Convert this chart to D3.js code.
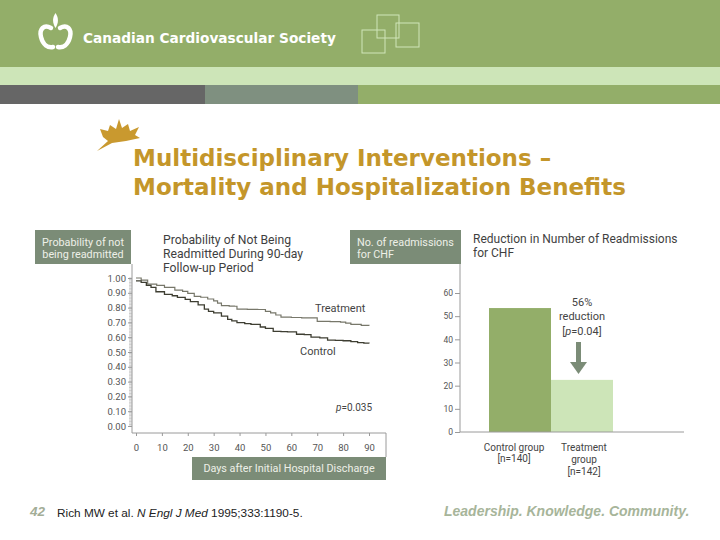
<!DOCTYPE html>
<html>
<head>
<meta charset="utf-8">
<script src="https://cdn.jsdelivr.net/npm/d3@7"></script>
<style>
  body { margin: 0; background: #fff; }
  text { font-family: Roboto, "DejaVu Sans", sans-serif; }
</style>
</head>
<body>
<svg width="720" height="540"></svg>
<script>
// Kaplan-Meier style curves (days, probability of not being readmitted)
const trtDays = [0, 2, 4.5, 8, 11, 15, 18, 20, 22.5, 25, 27.7, 30, 31.5, 33, 36, 38, 39, 43, 47, 50, 52, 54, 56, 60, 64, 67.6, 70, 75, 79, 81, 83, 87, 90];
const trtVals = [1.00, 0.985, 0.958, 0.95, 0.936, 0.918, 0.91, 0.896, 0.876, 0.87, 0.858, 0.845, 0.83, 0.813, 0.81, 0.809, 0.79, 0.788, 0.787, 0.775, 0.764, 0.75, 0.735, 0.733, 0.731, 0.73, 0.707, 0.705, 0.702, 0.695, 0.687, 0.68, 0.678];

const ctrlDays = [0, 2, 4, 5.8, 7.7, 11, 14, 16, 19, 21, 24, 26.4, 28, 30, 33, 35.4, 37, 39, 42, 44.4, 48, 50, 53, 56, 58.5, 62, 65, 67.6, 71, 74, 77, 80, 83, 85.6, 88, 90];
const ctrlVals = [0.98, 0.97, 0.95, 0.936, 0.907, 0.89, 0.88, 0.869, 0.855, 0.84, 0.818, 0.79, 0.775, 0.764, 0.742, 0.72, 0.71, 0.698, 0.692, 0.687, 0.669, 0.66, 0.64, 0.638, 0.636, 0.62, 0.618, 0.60, 0.596, 0.58, 0.578, 0.576, 0.57, 0.564, 0.56, 0.558];

const dayTicks = [0, 10, 20, 30, 40, 50, 60, 70, 80, 90];
const probTicks = [0, 0.1, 0.2, 0.3, 0.4, 0.5, 0.6, 0.7, 0.8, 0.9, 1.0];

// bar chart
const groups = ["Control group", "Treatment group"];
const groupLabels = [["Control group", "[n=140]"], ["Treatment", "group", "[n=142]"]];
const readmissions = [53.5, 22.5];
const countTicks = [0, 10, 20, 30, 40, 50, 60];

const svg = d3.select("svg");
const boxColor = "#7b8c77";
const green = "#93ae69";
const lightGreen = "#cde5b8";

// ---- header bands ----
svg.append("rect").attr("x", 0).attr("y", 0).attr("width", 720).attr("height", 67).attr("fill", green);
svg.append("rect").attr("x", 0).attr("y", 67).attr("width", 720).attr("height", 18).attr("fill", lightGreen);
svg.append("rect").attr("x", 0).attr("y", 85).attr("width", 205).attr("height", 19).attr("fill", "#666666");
svg.append("rect").attr("x", 205).attr("y", 85).attr("width", 153).attr("height", 19).attr("fill", "#7f9080");
svg.append("rect").attr("x", 358).attr("y", 85).attr("width", 362).attr("height", 19).attr("fill", green);

// logo
const logo = svg.append("g").attr("fill", "none").attr("stroke", "#fff").attr("stroke-width", 4.5).attr("stroke-linecap", "round");
logo.append("path").attr("d", "M51,28 C44,24 39,29 41,37 C43,45 48,48 53,47");
logo.append("path").attr("d", "M60,28 C67,24 72,29 70,37 C68,45 63,48 58,47");
svg.append("path").attr("d", "M55.5,13 C52,18 52.5,23 55.5,28 C58.5,23 59,18 55.5,13 Z").attr("fill", "#fff");

svg.append("text").attr("x", 83).attr("y", 43)
  .style("font-family", "'DejaVu Sans', sans-serif").style("font-weight", "bold")
  .attr("font-size", 13.7).attr("fill", "#fff").text("Canadian Cardiovascular Society");

const sq = svg.append("g").attr("fill", "none").attr("stroke", "#dcefc8").attr("stroke-width", 1).attr("opacity", 0.85);
sq.append("rect").attr("x", 377).attr("y", 15).attr("width", 22).attr("height", 23);
sq.append("rect").attr("x", 362).attr("y", 30).attr("width", 23).attr("height", 23);
sq.append("rect").attr("x", 396).attr("y", 23).attr("width", 23).attr("height", 24);

// ---- title ----
svg.append("path")
  .attr("d", "M97,151 L108,141 L103,137 L100,129 L108,131 L110,125 L116,129 L119,119 L122,128 L128,124 L130,131 L139,127 L135,135 L140,138 L126,141 L112,143 Z")
  .attr("fill", "#c9992f");
const title = svg.append("text").attr("fill", "#c4962a")
  .style("font-family", "'DejaVu Sans', sans-serif").style("font-weight", "bold").attr("font-size", 23);
title.append("tspan").attr("x", 133).attr("y", 166).text("Multidisciplinary Interventions –");
title.append("tspan").attr("x", 133).attr("y", 195).text("Mortality and Hospitalization Benefits");

// ---- left chart: probability curves ----
const x = d3.scaleLinear().domain([0, 90]).range([136, 369]);
const y = d3.scaleLinear().domain([0, 1]).range([426, 278]);
const axisColor = "#9a9a9a";
const tickText = "#555";

svg.append("rect").attr("x", 35).attr("y", 230).attr("width", 96).attr("height", 34).attr("fill", boxColor);
const lb = svg.append("text").attr("fill", "#eef0e8").attr("font-size", 10.8).attr("text-anchor", "middle");
lb.append("tspan").attr("x", 83).attr("y", 246).text("Probability of not");
lb.append("tspan").attr("x", 83).attr("y", 258).text("being readmitted");

const lt = svg.append("text").attr("fill", "#3f3f3f").attr("font-size", 12.2);
lt.append("tspan").attr("x", 163).attr("y", 244).text("Probability of Not Being");
lt.append("tspan").attr("x", 163).attr("y", 258).text("Readmitted During 90-day");
lt.append("tspan").attr("x", 163).attr("y", 272).text("Follow-up Period");

// frame lines
svg.append("path").attr("d", "M132,264 L132,433 L386,433 L386,457")
  .attr("fill", "none").attr("stroke", axisColor).attr("stroke-width", 1);

// minor ticks
svg.append("g").selectAll("line").data(d3.range(0, 101).map(d => d / 100)).join("line")
  .attr("x1", 129).attr("x2", 132)
  .attr("y1", d => y(d)).attr("y2", d => y(d))
  .attr("stroke", "#aaa").attr("stroke-width", 0.6);

const yAxisL = d3.axisLeft(y).tickValues(probTicks).tickFormat(d3.format(".2f")).tickSize(4).tickPadding(2);
const gyl = svg.append("g").attr("transform", "translate(132,0)").call(yAxisL);
gyl.select(".domain").remove();
gyl.selectAll("line").attr("stroke", "#999");
gyl.selectAll("text").attr("fill", tickText).attr("font-size", 9.5).style("font-family", "Roboto, sans-serif");

const xAxisL = d3.axisBottom(x).tickValues(dayTicks).tickSize(3).tickPadding(8);
const gxl = svg.append("g").attr("transform", "translate(0,433)").call(xAxisL);
gxl.select(".domain").remove();
gxl.selectAll("line").attr("stroke", "#999");
gxl.selectAll("text").attr("fill", tickText).attr("font-size", 9.5);

svg.append("rect").attr("x", 192).attr("y", 457).attr("width", 194).attr("height", 23).attr("fill", boxColor);
svg.append("text").attr("x", 289).attr("y", 472).attr("text-anchor", "middle")
  .attr("fill", "#eef0e8").attr("font-size", 10.8).text("Days after Initial Hospital Discharge");

const line = d3.line().x(d => x(d[0])).y(d => y(d[1])).curve(d3.curveStepAfter);
svg.append("path").datum(d3.zip(trtDays, trtVals)).attr("d", line)
  .attr("fill", "none").attr("stroke", "#77776a").attr("stroke-width", 1.2);
svg.append("path").datum(d3.zip(ctrlDays, ctrlVals)).attr("d", line)
  .attr("fill", "none").attr("stroke", "#3e3e32").attr("stroke-width", 1.3);

svg.append("text").attr("x", 315).attr("y", 312).attr("fill", "#444").attr("font-size", 11).text("Treatment");
svg.append("text").attr("x", 300).attr("y", 355).attr("fill", "#444").attr("font-size", 11).text("Control");
const pv = svg.append("text").attr("x", 336).attr("y", 411).attr("fill", "#444").attr("font-size", 10);
pv.append("tspan").style("font-style", "italic").text("p");
pv.append("tspan").text("=0.035");

// ---- right chart: readmissions bars ----
const xb = d3.scaleBand().domain(groups).range([489, 613]).padding(0);
const yb = d3.scaleLinear().domain([0, 60]).range([432, 293]);

svg.append("rect").attr("x", 350).attr("y", 230).attr("width", 111).attr("height", 34).attr("fill", boxColor);
const rb = svg.append("text").attr("fill", "#eef0e8").attr("font-size", 10.8);
rb.append("tspan").attr("x", 357).attr("y", 246).text("No. of readmissions");
rb.append("tspan").attr("x", 357).attr("y", 258).text("for CHF");

const rt = svg.append("text").attr("fill", "#3f3f3f").attr("font-size", 12);
rt.append("tspan").attr("x", 473).attr("y", 243).text("Reduction in Number of Readmissions");
rt.append("tspan").attr("x", 473).attr("y", 257).text("for CHF");

svg.append("g").selectAll("rect").data(groups).join("rect")
  .attr("x", d => xb(d)).attr("width", xb.bandwidth())
  .attr("y", (d, i) => yb(readmissions[i]))
  .attr("height", (d, i) => yb(0) - yb(readmissions[i]))
  .attr("fill", (d, i) => i === 0 ? green : lightGreen);

svg.append("path").attr("d", "M460,264 L460,432 L684,432")
  .attr("fill", "none").attr("stroke", axisColor).attr("stroke-width", 1);

const yAxisR = d3.axisLeft(yb).tickValues(countTicks).tickSize(5).tickPadding(2);
const gyr = svg.append("g").attr("transform", "translate(460,0)").call(yAxisR);
gyr.select(".domain").remove();
gyr.selectAll("line").attr("stroke", "#999");
gyr.selectAll("text").attr("fill", tickText).attr("font-size", 8.5);

groups.forEach((g, i) => {
  const t = svg.append("text").attr("fill", "#444").attr("font-size", 10).attr("text-anchor", "middle");
  groupLabels[i].forEach((s, j) => {
    t.append("tspan").attr("x", xb(g) + xb.bandwidth() / 2 + (i === 0 ? -6 : 2))
      .attr("y", 451 + j * (i === 0 ? 11 : 12)).text(s);
  });
});

const note = svg.append("text").attr("fill", "#444").attr("font-size", 11).attr("text-anchor", "middle");
note.append("tspan").attr("x", 582).attr("y", 306).text("56%");
note.append("tspan").attr("x", 582).attr("y", 320).text("reduction");
const p3 = note.append("tspan").attr("x", 582).attr("y", 335);
p3.append("tspan").text("[");
p3.append("tspan").style("font-style", "italic").text("p");
p3.append("tspan").text("=0.04]");

// arrow
svg.append("rect").attr("x", 576).attr("y", 342).attr("width", 5).attr("height", 21).attr("fill", boxColor);
svg.append("path").attr("d", "M570,362 L587,362 L578.5,374 Z").attr("fill", boxColor);

// ---- footer ----
svg.append("text").attr("x", 30).attr("y", 516).attr("fill", "#a3ad97")
  .style("font-family", "'Liberation Sans', Arial, sans-serif").style("font-style", "italic").style("font-weight", "bold")
  .attr("font-size", 13.5).text("42");
const ref = svg.append("text").attr("x", 57).attr("y", 517).attr("fill", "#222")
  .style("font-family", "'Liberation Sans', Arial, sans-serif").attr("font-size", 11.8);
ref.append("tspan").text("Rich MW et al. ");
ref.append("tspan").style("font-style", "italic").text("N Engl J Med");
ref.append("tspan").text(" 1995;333:1190-5.");
svg.append("text").attr("x", 444).attr("y", 516).attr("fill", "#a7b59a")
  .style("font-family", "'Liberation Sans', Arial, sans-serif").style("font-style", "italic").style("font-weight", "bold")
  .attr("font-size", 14).text("Leadership. Knowledge. Community.");
</script>
</body>
</html>
